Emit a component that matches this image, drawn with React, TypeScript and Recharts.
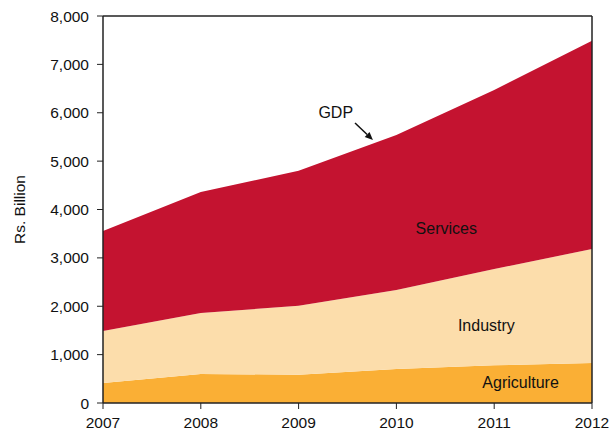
import React from "react";
import {
  AreaChart,
  Area,
  XAxis,
  YAxis,
  ReferenceLine,
  ReferenceDot,
} from "recharts";

const years = [2007, 2008, 2009, 2010, 2011, 2012];
const agriculture = [413, 600, 585, 703, 779, 827];
const industry = [1075, 1260, 1426, 1633, 1991, 2356];
const services = [2068, 2502, 2791, 3204, 3700, 4307];

const yTicks = [0, 1000, 2000, 3000, 4000, 5000, 6000, 7000, 8000];

// annotation text anchored in data space
const notes = [
  { text: "GDP", x: 2009.38, y: 5995 },
  { text: "Services", x: 2010.51, y: 3617 },
  { text: "Industry", x: 2010.92, y: 1592 },
  { text: "Agriculture", x: 2011.27, y: 434 },
];

const data = years.map((year, i) => ({
  year,
  agriculture: agriculture[i],
  industry: industry[i],
  services: services[i],
}));

const FONT = "'Liberation Sans', Arial, sans-serif";

const Arrow = (props: any) => {
  const { x1, y1, x2, y2 } = props;
  if (x1 == null) return null;
  const ang = Math.atan2(y2 - y1, x2 - x1);
  const len = 8;
  const w = 3.5;
  const bx = x2 - len * Math.cos(ang);
  const by = y2 - len * Math.sin(ang);
  const px = -Math.sin(ang) * w;
  const py = Math.cos(ang) * w;
  return (
    <g>
      <line x1={x1} y1={y1} x2={bx} y2={by} stroke="#111" strokeWidth={1.5} />
      <polygon
        points={`${x2},${y2} ${bx + px},${by + py} ${bx - px},${by - py}`}
        fill="#111"
      />
    </g>
  );
};

const NoteLabel = (text: string) => (props: any) => {
  const { viewBox } = props;
  const cx = viewBox.x + (viewBox.width || 0) / 2;
  const cy = viewBox.y + (viewBox.height || 0) / 2;
  return (
    <text
      x={cx}
      y={cy}
      textAnchor="middle"
      dominantBaseline="central"
      fontFamily={FONT}
      fontSize={16}
      fill="#111"
    >
      {text}
    </text>
  );
};

const YLabel = (props: any) => {
  const { viewBox } = props;
  const cy = viewBox.y + viewBox.height / 2;
  return (
    <text
      x={19}
      y={cy}
      transform={`rotate(-90 19 ${cy})`}
      textAnchor="middle"
      dominantBaseline="central"
      fontFamily={FONT}
      fontSize={15.5}
      fill="#111"
    >
      Rs. Billion
    </text>
  );
};

export default function App() {
  return (
    <div style={{ position: "absolute", left: 0, top: 0, background: "#fff" }}>
      <AreaChart
        width={612}
        height={435}
        data={data}
        margin={{ top: 16, right: 20, bottom: 2, left: 0 }}
      >
        <XAxis
          dataKey="year"
          type="number"
          domain={[2007, 2012]}
          ticks={years}
          height={30}
          tickSize={6}
          tickMargin={8}
          stroke="#222"
          tick={{ fill: "#111", fontSize: 15.5, fontFamily: FONT }}
          tickLine={{ stroke: "#222" }}
          axisLine={{ stroke: "#222", strokeWidth: 1.5 }}
          interval={0}
          allowDataOverflow
        />
        <YAxis
          width={103}
          domain={[0, 8000]}
          ticks={yTicks}
          tickSize={6}
          tickMargin={8}
          tickFormatter={(v: number) => v.toLocaleString("en-US")}
          tick={{ fill: "#111", fontSize: 15.5, fontFamily: FONT }}
          tickLine={{ stroke: "#222" }}
          axisLine={{ stroke: "#222", strokeWidth: 1.5 }}
          label={<YLabel />}
          allowDataOverflow
        />
        <Area
          type="linear"
          dataKey="agriculture"
          stackId="1"
          stroke="none"
          fill="#FAAF35"
          fillOpacity={1}
          isAnimationActive={false}
        />
        <Area
          type="linear"
          dataKey="industry"
          stackId="1"
          stroke="none"
          fill="#FCDDAB"
          fillOpacity={1}
          isAnimationActive={false}
        />
        <Area
          type="linear"
          dataKey="services"
          stackId="1"
          stroke="none"
          fill="#C41330"
          fillOpacity={1}
          isAnimationActive={false}
        />
        <ReferenceLine y={8000} stroke="#222" strokeWidth={1.5} />
        <ReferenceLine x={2012} stroke="#222" strokeWidth={1.5} />
        <ReferenceLine
          segment={[
            { x: 2009.577, y: 5788 },
            { x: 2009.76, y: 5437 },
          ]}
          shape={<Arrow />}
        />
        {notes.map((n) => (
          <ReferenceDot
            key={n.text}
            x={n.x}
            y={n.y}
            r={0}
            stroke="none"
            fill="none"
            label={NoteLabel(n.text)}
          />
        ))}
      </AreaChart>
    </div>
  );
}
